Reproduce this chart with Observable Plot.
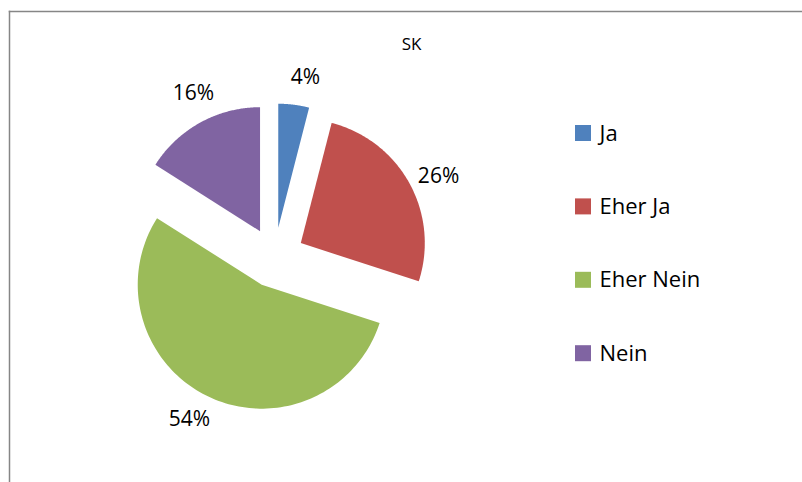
<!DOCTYPE html>
<html>
<head>
<meta charset="utf-8">
<script src="https://cdn.jsdelivr.net/npm/d3@7"></script>
<script src="https://cdn.jsdelivr.net/npm/@observablehq/plot@0.6"></script>
<style>
  html, body { margin: 0; padding: 0; background: #ffffff; overflow: hidden; }
  #chart svg { display: block; }
</style>
</head>
<body>
<div id="chart"></div>
<script>
// ---- data ----
const title = "SK";
const categories = ["Ja", "Eher Ja", "Eher Nein", "Nein"];
const values = [4, 26, 54, 16];
const labels = ["4%", "26%", "54%", "16%"];
const colors = ["#4F81BD", "#C0504D", "#9BBB59", "#8064A2"];

// ---- layout (pixels) ----
const W = 802, H = 482;
const frameLeft = 9, frameTop = 11;
const cxPx = 274, cyPx = 257, Rpx = 124;
const explode = 30 / Rpx;          // in radius units
const labelR = 183 / Rpx;          // label distance from pie centre (radius units)
const labelTurn = 2.5 * Math.PI / 180; // small clockwise turn of label direction
const font = "'Open Sans', Lato, sans-serif";

// pie geometry in radius units (y up)
const arcs = d3.pie().sort(null).value(d => d)(values);
const slicePts = [];
const labelData = [];
arcs.forEach((a, i) => {
  const mid = (a.startAngle + a.endAngle) / 2;
  const ox = explode * Math.sin(mid), oy = explode * Math.cos(mid);
  const n = 120;
  slicePts.push({category: categories[i], x: ox, y: oy});
  for (let k = 0; k <= n; k++) {
    const t = a.startAngle + (a.endAngle - a.startAngle) * k / n;
    slicePts.push({category: categories[i], x: ox + Math.sin(t), y: oy + Math.cos(t)});
  }
  slicePts.push({category: categories[i], x: ox, y: oy});
  const la = mid + labelTurn;
  labelData.push({text: labels[i], x: labelR * Math.sin(la), y: labelR * Math.cos(la)});
});

// legend (radius units)
const legX1 = (575 - cxPx) / Rpx, legX2 = (591 - cxPx) / Rpx, legTextX = (599 - cxPx) / Rpx;
const legY0 = (cyPx - 133) / Rpx, legStep = 73.4 / Rpx, legHalf = 8 / Rpx;
const legendData = categories.map((c, i) => ({
  category: c,
  y: legY0 - i * legStep
}));

const chart = Plot.plot({
  width: W,
  height: H,
  marginLeft: frameLeft,
  marginTop: frameTop,
  marginRight: 0,
  marginBottom: 0,
  style: {fontFamily: font, background: "#ffffff", color: "#000000"},
  x: {domain: [(frameLeft - cxPx) / Rpx, (W - cxPx) / Rpx], axis: null},
  y: {domain: [(cyPx - H) / Rpx, (cyPx - frameTop) / Rpx], axis: null},
  color: {type: "ordinal", domain: categories, range: colors},
  marks: [
    Plot.frame({anchor: "top", stroke: "#868686", strokeWidth: 1.5}),
    Plot.frame({anchor: "left", stroke: "#868686", strokeWidth: 1.5}),
    Plot.line(slicePts, {x: "x", y: "y", z: "category", fill: "category", stroke: "none", curve: "linear"}),
    Plot.text(labelData, {x: "x", y: "y", text: "text", fontSize: 21, fill: "#000000"}),
    Plot.rect(legendData, {x1: () => legX1, x2: () => legX2, y1: d => d.y - legHalf, y2: d => d.y + legHalf, fill: "category"}),
    Plot.text(legendData, {x: () => legTextX, y: "y", text: "category", textAnchor: "start", fontSize: 22, fill: "#000000"}),
    Plot.text([title], {x: () => (411 - cxPx) / Rpx, y: () => (cyPx - 44) / Rpx, text: d => d, fontSize: 17, fill: "#000000"})
  ]
});
document.getElementById("chart").appendChild(chart);
</script>
</body>
</html>
